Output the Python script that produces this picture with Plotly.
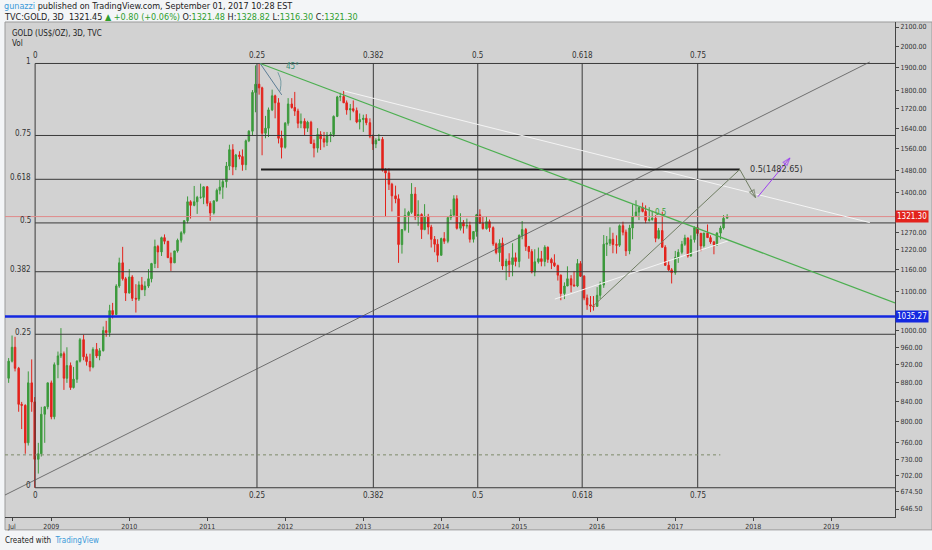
import numpy as np
import pandas as pd
import plotly.graph_objects as go

FONT = "Liberation Sans Narrow, DejaVu Sans Condensed, Arial Narrow, sans-serif"

# Gold (US$/oz) - candles at half-month resolution, Jun 2008 .. Sep 2017
dates = pd.date_range("2008-06-15", "2017-09-01", freq="SMS")

opens = [
    890, 928, 960, 912, 835, 833, 760, 880, 840, 730, 740, 815, 830,  # 2008
    880, 810, 920, 940, 945, 890, 918, 870, 888, 928, 978, 938, 927, 915, 955, 940, 952, 1000, 995, 1050, 1040, 1115, 1180, 1135,
    1096, 1140, 1082, 1080, 1118, 1105, 1115, 1135, 1178, 1228, 1212, 1255, 1244, 1195, 1180, 1215, 1247, 1270, 1308, 1370, 1358, 1370, 1385, 1385,
    1421, 1365, 1333, 1373, 1409, 1420, 1439, 1495, 1556, 1492, 1536, 1530, 1500, 1590, 1628, 1790, 1826, 1810, 1620, 1640, 1715, 1775, 1745, 1600,
    1565, 1660, 1740, 1725, 1710, 1660, 1668, 1640, 1664, 1580, 1562, 1615, 1598, 1585, 1612, 1615, 1688, 1770, 1772, 1745, 1715, 1720, 1712, 1665,
    1675, 1680, 1662, 1608, 1578, 1592, 1596, 1480, 1470, 1430, 1390, 1380, 1234, 1280, 1325, 1335, 1396, 1320, 1328, 1280, 1322, 1288, 1250, 1235,
    1202, 1252, 1244, 1318, 1326, 1380, 1284, 1302, 1291, 1293, 1250, 1274, 1327, 1300, 1283, 1305, 1286, 1236, 1210, 1238, 1171, 1185, 1175, 1195,
    1184, 1262, 1280, 1228, 1213, 1154, 1183, 1192, 1184, 1226, 1190, 1180, 1172, 1145, 1095, 1115, 1135, 1118, 1115, 1178, 1142, 1083, 1065, 1062,
    1061, 1090, 1118, 1235, 1238, 1250, 1234, 1232, 1292, 1272, 1215, 1285, 1322, 1336, 1351, 1338, 1309, 1312, 1316, 1253, 1277, 1226, 1173, 1160,
    1152, 1196, 1211, 1235, 1254, 1200, 1249, 1286, 1268, 1230, 1269, 1255, 1242, 1233, 1269, 1285, 1316,  # 2017
]
highs = [
    935, 988, 985, 915, 840, 835, 905, 932, 850, 760, 830, 830, 880,
    885, 925, 950, 1006, 950, 960, 925, 915, 930, 982, 990, 945, 945, 960, 970, 958, 1010, 1024, 1065, 1070, 1120, 1195, 1227, 1140,
    1162, 1145, 1120, 1128, 1140, 1128, 1162, 1180, 1249, 1233, 1258, 1265, 1245, 1210, 1215, 1252, 1275, 1310, 1388, 1375, 1424, 1390, 1432, 1422,
    1424, 1372, 1375, 1415, 1445, 1448, 1510, 1575, 1577, 1540, 1550, 1557, 1595, 1632, 1800, 1912, 1921, 1815, 1690, 1725, 1802, 1780, 1765, 1630,
    1665, 1765, 1765, 1792, 1720, 1700, 1680, 1670, 1670, 1595, 1640, 1628, 1625, 1625, 1625, 1692, 1775, 1788, 1796, 1755, 1740, 1755, 1725, 1700,
    1695, 1697, 1680, 1615, 1600, 1617, 1605, 1487, 1487, 1435, 1425, 1395, 1265, 1348, 1340, 1434, 1420, 1375, 1332, 1362, 1330, 1295, 1260, 1250,
    1255, 1272, 1320, 1345, 1392, 1392, 1332, 1310, 1315, 1305, 1265, 1330, 1345, 1320, 1322, 1312, 1290, 1240, 1250, 1255, 1192, 1208, 1238, 1210,
    1265, 1307, 1285, 1230, 1220, 1220, 1225, 1215, 1232, 1228, 1195, 1205, 1175, 1147, 1125, 1170, 1145, 1157, 1191, 1185, 1145, 1092, 1088, 1088,
    1112, 1127, 1263, 1260, 1287, 1270, 1262, 1296, 1305, 1280, 1295, 1362, 1375, 1352, 1367, 1358, 1352, 1340, 1326, 1285, 1337, 1232, 1185, 1165,
    1215, 1220, 1245, 1264, 1255, 1262, 1290, 1296, 1270, 1270, 1296, 1262, 1245, 1272, 1292, 1326, 1329,
]
lows = [
    880, 925, 905, 820, 786, 740, 755, 820, 681, 705, 735, 760, 825,
    805, 805, 890, 935, 865, 880, 865, 868, 880, 925, 930, 918, 905, 912, 935, 930, 950, 985, 985, 1030, 1040, 1110, 1130, 1075,
    1095, 1075, 1045, 1075, 1105, 1088, 1110, 1125, 1165, 1165, 1200, 1235, 1195, 1157, 1180, 1210, 1240, 1265, 1300, 1315, 1355, 1330, 1380, 1362,
    1355, 1308, 1328, 1370, 1395, 1380, 1418, 1480, 1462, 1480, 1520, 1478, 1480, 1585, 1610, 1705, 1780, 1535, 1600, 1605, 1710, 1680, 1580, 1523,
    1560, 1650, 1720, 1690, 1640, 1640, 1612, 1625, 1580, 1527, 1545, 1555, 1565, 1570, 1585, 1605, 1685, 1752, 1760, 1695, 1672, 1705, 1660, 1635,
    1625, 1652, 1600, 1555, 1562, 1590, 1475, 1321, 1410, 1338, 1365, 1180, 1207, 1275, 1270, 1330, 1310, 1292, 1251, 1278, 1265, 1225, 1211, 1182,
    1202, 1236, 1238, 1310, 1325, 1280, 1277, 1268, 1283, 1240, 1240, 1258, 1305, 1280, 1280, 1273, 1230, 1205, 1183, 1160, 1131, 1140, 1142, 1170,
    1167, 1250, 1215, 1192, 1150, 1142, 1178, 1170, 1170, 1180, 1162, 1168, 1130, 1077, 1080, 1115, 1098, 1115, 1112, 1140, 1077, 1052, 1046, 1050,
    1060, 1080, 1110, 1200, 1230, 1208, 1207, 1227, 1262, 1200, 1205, 1250, 1320, 1310, 1335, 1300, 1305, 1308, 1241, 1250, 1225, 1171, 1157, 1122,
    1146, 1180, 1205, 1230, 1195, 1198, 1240, 1260, 1214, 1225, 1260, 1236, 1205, 1230, 1250, 1280, 1316,
]
closes = [
    928, 960, 912, 835, 833, 760, 880, 840, 730, 740, 815, 830, 880,
    810, 920, 940, 945, 890, 918, 870, 888, 928, 978, 938, 927, 915, 955, 940, 952, 1000, 995, 1050, 1040, 1115, 1180, 1135, 1096,
    1140, 1082, 1080, 1118, 1105, 1115, 1135, 1178, 1228, 1212, 1255, 1244, 1195, 1180, 1215, 1247, 1270, 1308, 1370, 1358, 1370, 1385, 1385, 1421,
    1365, 1333, 1373, 1409, 1420, 1439, 1495, 1556, 1492, 1536, 1530, 1500, 1590, 1628, 1790, 1826, 1810, 1620, 1640, 1715, 1775, 1745, 1600, 1565,
    1660, 1740, 1725, 1710, 1660, 1668, 1640, 1664, 1580, 1562, 1615, 1598, 1585, 1612, 1615, 1688, 1770, 1772, 1745, 1715, 1720, 1712, 1665, 1675,
    1680, 1662, 1608, 1578, 1592, 1596, 1480, 1470, 1430, 1390, 1380, 1234, 1280, 1325, 1335, 1396, 1320, 1328, 1280, 1322, 1288, 1250, 1235, 1202,
    1252, 1244, 1318, 1326, 1380, 1284, 1302, 1291, 1293, 1250, 1274, 1327, 1300, 1283, 1305, 1286, 1236, 1210, 1238, 1171, 1185, 1175, 1195, 1184,
    1262, 1280, 1228, 1213, 1154, 1183, 1192, 1184, 1226, 1190, 1180, 1172, 1145, 1095, 1115, 1135, 1118, 1115, 1178, 1142, 1083, 1065, 1062, 1061,
    1090, 1118, 1235, 1238, 1250, 1234, 1232, 1292, 1272, 1215, 1285, 1322, 1336, 1351, 1338, 1309, 1312, 1316, 1253, 1277, 1226, 1173, 1160, 1152,
    1196, 1211, 1235, 1254, 1200, 1249, 1286, 1268, 1230, 1269, 1255, 1242, 1233, 1269, 1285, 1316, 1321,
]
assert len(opens) == len(highs) == len(lows) == len(closes) == len(dates)

# fib retracement (price) and fib time zones
fib_levels = [0, 0.25, 0.382, 0.5, 0.618, 0.75, 1]
fib_labels = ["0", "0.25", "0.382", "0.5", "0.618", "0.75", "1"]
fib_low, fib_high = 681, 1921
fib_start, fib_end = "2008-10-17", "2020-06-01"
time_fib_labels = ["0", "0.25", "0.382", "0.5", "0.618", "0.75"]
time_fib_dates = ["2008-10-17", "2011-08-22", "2013-02-17", "2014-06-21", "2015-10-23", "2017-04-16"]

# drawings
downtrend_x, downtrend_y = ["2011-09-06", "2019-10-27"], [1921, 1070]
diag_x, diag_y = ["2008-05-29", "2019-07-01"], [669, 1928]
white_hi_x, white_hi_y = ["2012-10-04", "2019-07-01"], [1796, 1302]
white_lo_x, white_lo_y = ["2015-06-17", "2017-09-05"], [1080, 1245]
angle_x, angle_y = ["2011-09-06", "2011-12-16"], [1921, 1779]
arc_x, arc_y = ["2011-11-28", "2011-12-12", "2011-12-08"], [1880, 1840, 1795]
target_x, target_y = ["2015-12-10", "2017-10-30", "2018-01-12"], [1060, 1482.65, 1384]
purple_x, purple_y = ["2018-01-23", "2018-06-22"], [1387, 1525]
target_level = 1482.65
target_line_x = ["2011-09-10", "2017-10-30"]
support_level = 1035.27
last_price = 1321.30
vol_x, vol_y = ["2008-05-29", "2017-07-31"], [738, 738]

price_ticks = [646.5, 674.5, 702, 730, 760, 800, 840, 880, 920, 960, 1000, 1100, 1160,
               1220, 1270, 1400, 1480, 1560, 1640, 1720, 1800, 1900, 2000, 2100]
time_ticks = ["2008-07-01"] + [f"{y}-01-01" for y in range(2009, 2020)]
time_tick_text = ["Jul"] + [str(y) for y in range(2009, 2020)]

GREEN, RED = "#3c9a3c", "#e3231c"
LINE = "#3a3a3a"

fig = go.Figure()

fig.add_trace(go.Candlestick(
    x=dates, open=opens, high=highs, low=lows, close=closes,
    increasing=dict(line=dict(color=GREEN, width=1), fillcolor=GREEN),
    decreasing=dict(line=dict(color=RED, width=1), fillcolor=RED),
    whiskerwidth=0, showlegend=False, hoverinfo="skip",
))

fib_prices = [fib_low + f * (fib_high - fib_low) for f in fib_levels]
hx, hy = [], []
for p in fib_prices:
    hx += [fib_start, fib_end, None]
    hy += [p, p, None]
fig.add_trace(go.Scatter(x=hx, y=hy, mode="lines", line=dict(color=LINE, width=1),
                         showlegend=False, hoverinfo="skip"))
vx, vy = [], []
for d in time_fib_dates:
    vx += [d, d, None]
    vy += [fib_low, fib_high, None]
fig.add_trace(go.Scatter(x=vx, y=vy, mode="lines", line=dict(color=LINE, width=1),
                         showlegend=False, hoverinfo="skip"))


def seg(x, y, color, width=1, dash=None, shape="linear"):
    fig.add_trace(go.Scatter(x=x, y=y, mode="lines",
                             line=dict(color=color, width=width, dash=dash, shape=shape),
                             showlegend=False, hoverinfo="skip"))


def arrow(x, y, color):
    fig.add_trace(go.Scatter(
        x=x, y=y, mode="lines+markers", line=dict(color=color, width=1),
        marker=dict(symbol=["circle"] * (len(x) - 1) + ["arrow-open"],
                    size=[0] * (len(x) - 1) + [8], angleref="previous",
                    color=color, line=dict(color=color, width=1.2)),
        showlegend=False, hoverinfo="skip"))


seg(vol_x, vol_y, "#7d8a6a", 1, "dot")
seg([vol_x[0], fib_end], [support_level] * 2, "#1428e0", 2.5)
seg([vol_x[0], fib_end], [last_price] * 2, "#e08a8a", 1)
seg(diag_x, diag_y, "#555555", 0.8)
seg(white_hi_x, white_hi_y, "#f4f4f4", 1)
seg(white_lo_x, white_lo_y, "#f4f4f4", 1)
seg(target_line_x, [target_level] * 2, "#1e1e1e", 2)
seg(downtrend_x, downtrend_y, "#4caf50", 1.2)
seg(angle_x, angle_y, "#5c7c95", 1)
seg(arc_x, arc_y, "#5c8c95", 0.8, shape="spline")
arrow(target_x, target_y, "#6f7d62")
arrow(purple_x, purple_y, "#9d3ff0")

ann = []
for lab, p in zip(fib_labels, fib_prices):
    ann.append(dict(x=fib_start, y=np.log10(p), xref="x", yref="y", text=lab, showarrow=False,
                    xanchor="right", xshift=-2, yanchor="middle", yshift=2,
                    font=dict(size=8, color="#333")))
for lab, d in zip(time_fib_labels, time_fib_dates):
    ann.append(dict(x=d, y=np.log10(fib_high), xref="x", yref="y", text=lab, showarrow=False,
                    xanchor="center", yanchor="bottom", yshift=1, font=dict(size=8, color="#333")))
    ann.append(dict(x=d, y=np.log10(fib_low), xref="x", yref="y", text=lab, showarrow=False,
                    xanchor="center", yanchor="top", yshift=-1, font=dict(size=8, color="#333")))
ann.append(dict(x=target_line_x[1], y=np.log10(target_level), xref="x", yref="y",
                text="0.5(1482.65)", showarrow=False, xanchor="left", xshift=8,
                font=dict(size=9, color="#333")))
ann.append(dict(x="2016-09-20", y=np.log10(1336), xref="x", yref="y", text="0.5",
                showarrow=False, xanchor="left", font=dict(size=8, color="#3aa03a")))
ann.append(dict(x="2012-02-03", y=np.log10(1905), xref="x", yref="y", text="45°",
                showarrow=False, xanchor="center", font=dict(size=8, color="#3d8f7a")))
ann.append(dict(x=1, y=np.log10(last_price), xref="paper", yref="y", text="1321.30",
                showarrow=False, xanchor="left", bgcolor="#e3231c", borderpad=1,
                font=dict(size=8, color="white")))
ann.append(dict(x=1, y=np.log10(support_level), xref="paper", yref="y", text="1035.27",
                showarrow=False, xanchor="left", bgcolor="#1428e0", borderpad=1,
                font=dict(size=8, color="white")))
ann.append(dict(x=-0.003, y=1.032, xref="paper", yref="paper", showarrow=False,
                xanchor="left", yanchor="middle", font=dict(size=9, color="#222"),
                text="<span style='color:#3a9ad9'>gunazzi</span> published on TradingView.com, "
                     "September 01, 2017 10:28 EST"))
ann.append(dict(x=-0.003, y=1.010, xref="paper", yref="paper", showarrow=False,
                xanchor="left", yanchor="middle", font=dict(size=9, color="#222"),
                text="TVC:GOLD, 3D  1321.45 <span style='color:#2e9e2e'>▲ +0.80 (+0.06%)</span> "
                     "O:<span style='color:#2e9e2e'>1321.48</span> H:<span style='color:#2e9e2e'>1328.82</span> "
                     "L:<span style='color:#2e9e2e'>1316.30</span> C:<span style='color:#2e9e2e'>1321.30</span>"))
ann.append(dict(x=0.006, y=0.976, xref="paper", yref="paper", showarrow=False,
                xanchor="left", yanchor="middle", text="GOLD (US$/OZ), 3D, TVC",
                font=dict(size=8, color="#222")))
ann.append(dict(x=0.006, y=0.956, xref="paper", yref="paper", showarrow=False,
                xanchor="left", yanchor="middle", text="Vol", font=dict(size=8, color="#222")))
ann.append(dict(x=-0.002, y=-0.047, xref="paper", yref="paper", showarrow=False,
                xanchor="left", yanchor="middle", font=dict(size=8, color="#222"),
                text="Created with  <span style='color:#3a9ad9'>TradingView</span>"))

fig.update_layout(
    width=932, height=550,
    margin=dict(l=5, r=37, t=22, b=33),
    paper_bgcolor="#f3f5f7", plot_bgcolor="#d2d2d2",
    font=dict(family=FONT, size=8, color="#333"),
    annotations=ann,
    shapes=[dict(type="rect", xref="paper", yref="paper", x0=0, x1=1.0416, y0=-0.026, y1=1,
                 fillcolor="#d2d2d2", line=dict(color="#9a9a9a", width=1), layer="below")],
    showlegend=False,
)
fig.update_xaxes(
    type="date", range=["2008-05-29", "2019-10-27"], rangeslider_visible=False,
    tickvals=time_ticks, ticktext=time_tick_text, ticks="outside", ticklen=3, tickcolor="#444",
    showgrid=False, zeroline=False, showline=True, linecolor="#444", linewidth=1,
    tickfont=dict(size=7, color="#333"),
)
fig.update_yaxes(
    type="log", range=[np.log10(634), np.log10(2126)], side="right",
    tickvals=price_ticks, ticktext=[f"{v:.2f}" for v in price_ticks],
    ticks="outside", ticklen=3, tickcolor="#444",
    showgrid=False, zeroline=False, showline=True, linecolor="#444", linewidth=1,
    tickfont=dict(size=7, color="#333"),
)

fig.write_html("out.html", config={"displayModeBar": False},
               post_script="document.body.style.margin='0';")
